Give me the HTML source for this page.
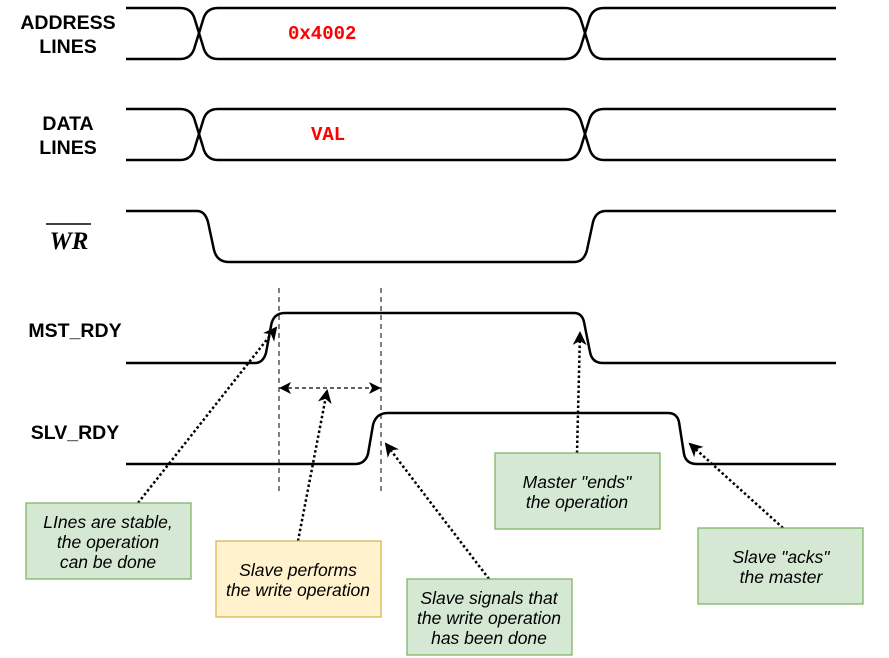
<!DOCTYPE html>
<html><head><meta charset="utf-8"><style>
html,body{margin:0;padding:0;background:#fff;}
svg{display:block;}
.lbl{font-family:"Liberation Sans",sans-serif;font-weight:bold;font-size:19.5px;fill:#000;text-anchor:middle;}
.bx{font-family:"Liberation Sans",sans-serif;font-style:italic;font-size:17.5px;fill:#000;text-anchor:middle;}
.mono{font-family:"Liberation Mono",monospace;font-weight:bold;font-size:19px;fill:#f00;}
.w{fill:none;stroke:#000;stroke-width:2.5;}
.dot{fill:none;stroke:#000;stroke-width:2.5;stroke-dasharray:2.5 2.5;}
</style></head><body>
<svg width="889" height="658" viewBox="0 0 889 658" xmlns="http://www.w3.org/2000/svg">
<defs>
<marker id="ah" markerWidth="14" markerHeight="14" refX="12" refY="7" orient="auto-start-reverse" markerUnits="userSpaceOnUse">
<path d="M0,0 L14,7 L0,14 L4,7 Z" fill="#000"/></marker>
<marker id="ah2" markerWidth="12" markerHeight="12" refX="10" refY="6" orient="auto-start-reverse" markerUnits="userSpaceOnUse">
<path d="M0,0 L12,6 L0,12 L3,6 Z" fill="#000"/></marker>
</defs>
<text class="lbl" x="68" y="29">ADDRESS</text>
<text class="lbl" x="68" y="53">LINES</text>
<text class="lbl" x="68" y="130">DATA</text>
<text class="lbl" x="68" y="154">LINES</text>
<text x="69" y="249" font-family="Liberation Serif,serif" font-style="italic" font-weight="bold" font-size="25" text-anchor="middle">WR</text>
<line x1="46" y1="224" x2="91" y2="224" stroke="#000" stroke-width="1.5"/>
<text class="lbl" x="75" y="337">MST_RDY</text>
<text class="lbl" x="75" y="439">SLV_RDY</text>

<path class="w" d="M126,8 H180 Q192,8 195,20 L199,33 L203,46 Q206,59 218,59 H565 Q577,59 581,46 L585,33 L589,20 Q592,8 604,8 H836"/>
<path class="w" d="M126,59 H180 Q192,59 195,46 L199,33 L203,20 Q206,8 218,8 H565 Q577,8 581,20 L585,33 L589,46 Q592,59 604,59 H836"/>
<text class="mono" x="288" y="39">0x4002</text>
<path class="w" d="M126,109 H180 Q192,109 195,121 L199,134 L203,147 Q206,160 218,160 H565 Q577,160 581,147 L585,134 L589,121 Q592,109 604,109 H836"/>
<path class="w" d="M126,160 H180 Q192,160 195,147 L199,134 L203,121 Q206,109 218,109 H565 Q577,109 581,121 L585,134 L589,147 Q592,160 604,160 H836"/>
<text class="mono" x="311" y="140">VAL</text>
<path class="w" d="M126,211 H197 Q205,211 208,222 L214,250 Q217,262 229,262 H574 Q584,262 587,250 L593,222 Q596,211 606,211 H836"/>
<path class="w" d="M126,363 H255 Q263,363 266,353 L271,326 Q273,313 285,313 H574 Q582,313 584,322 L590,352 Q592,363 603,363 H836"/>
<path class="w" d="M126,464 H355 Q365,464 368,454 L373,425 Q376,413 388,413 H668 Q677,413 679,422 L684,454 Q686,464 697,464 H836"/>

<line x1="279" y1="288" x2="279" y2="493" stroke="#000" stroke-width="1" stroke-dasharray="5 4"/>
<line x1="381" y1="288" x2="381" y2="493" stroke="#000" stroke-width="1" stroke-dasharray="5 4"/>
<line x1="281" y1="388" x2="379" y2="388" stroke="#000" stroke-width="1.3" stroke-dasharray="4 3" marker-start="url(#ah2)" marker-end="url(#ah2)"/>

<path class="dot" d="M138,503 L276,328" marker-end="url(#ah)"/>
<path class="dot" d="M298,541 L327,391" marker-end="url(#ah)"/>
<path class="dot" d="M489,579 L386,444" marker-end="url(#ah)"/>
<path class="dot" d="M577,453 L580,333" marker-end="url(#ah)"/>
<path class="dot" d="M783,528 L690,444" marker-end="url(#ah)"/>

<rect x="26" y="503" width="165" height="76" fill="#d5e8d4" stroke="#82b366" stroke-width="1.3"/>
<text class="bx" x="108" y="528">LInes are stable,</text>
<text class="bx" x="108" y="548">the operation</text>
<text class="bx" x="108" y="568">can be done</text>

<rect x="216" y="541" width="165" height="76" fill="#fff2cc" stroke="#d6b656" stroke-width="1.3"/>
<text class="bx" x="298" y="576">Slave performs</text>
<text class="bx" x="298" y="596">the write operation</text>

<rect x="407" y="579" width="165" height="76" fill="#d5e8d4" stroke="#82b366" stroke-width="1.3"/>
<text class="bx" x="489" y="604">Slave signals that</text>
<text class="bx" x="489" y="624">the write operation</text>
<text class="bx" x="489" y="644">has been done</text>

<rect x="495" y="453" width="165" height="76" fill="#d5e8d4" stroke="#82b366" stroke-width="1.3"/>
<text class="bx" x="577" y="488">Master "ends"</text>
<text class="bx" x="577" y="508">the operation</text>

<rect x="698" y="528" width="165" height="76" fill="#d5e8d4" stroke="#82b366" stroke-width="1.3"/>
<text class="bx" x="781" y="563">Slave "acks"</text>
<text class="bx" x="781" y="583">the master</text>
</svg>
</body></html>
